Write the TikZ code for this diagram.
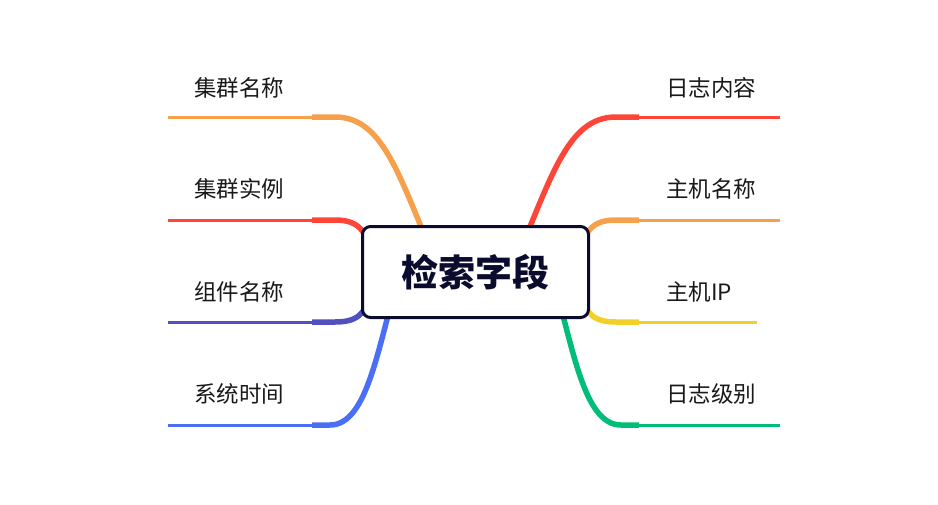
\documentclass[tikz,border=0pt]{standalone}
\usepackage{fontspec}
\setmainfont{Noto Sans CJK SC}
\usetikzlibrary{backgrounds}
\definecolor{ink}{HTML}{0B0B2E}
\definecolor{orangeA}{HTML}{F7A04B}
\definecolor{redA}{HTML}{FF4438}
\definecolor{indigoA}{HTML}{5050BE}
\definecolor{blueA}{HTML}{4A6EF5}
\definecolor{yellowA}{HTML}{F2D02A}
\definecolor{greenA}{HTML}{00BE7A}
\tikzset{
	rootbox/.style={draw=ink, line width=3pt, rounded corners=8pt, fill=white, text=ink,
		minimum width=226pt, minimum height=91pt, inner sep=0pt, font=\fontsize{37}{40}\selectfont\bfseries},
	topic/.style={inner sep=0pt, text=black!90, font=\fontsize{22.5}{26}\selectfont},
	branch/.style={line width=5.5pt, draw=#1, line cap=butt},
	twig/.style={line width=3pt, draw=#1, line cap=butt},
}
\begin{document}
\begin{tikzpicture}[x=1pt, y=-1pt, line join=round]
	\useasboundingbox (0,0) rectangle (938,504);
	\path
	(168,117) coordinate (e1) (312,117) coordinate (k1)
	(168,220) coordinate (e2) (312,220) coordinate (k2)
	(168,322) coordinate (e3) (312,322) coordinate (k3)
	(168,425) coordinate (e4) (312,425) coordinate (k4)
	(780,117) coordinate (e5) (639,117) coordinate (k5)
	(780,220) coordinate (e6) (639,220) coordinate (k6)
	(757,322) coordinate (e7) (639,322) coordinate (k7)
	(780,425) coordinate (e8) (639,425) coordinate (k8)
	;
	% root
	\node[rootbox] (root) at (475.5,272) {检索字段};
	% topics
	\node[topic, anchor=west] (t1) at (194,88) {集群名称};
	\node[topic, anchor=west] (t2) at (194,189) {集群实例};
	\node[topic, anchor=west] (t3) at (194,292) {组件名称};
	\node[topic, anchor=west] (t4) at (194,394) {系统时间};
	\node[topic, anchor=west] (t5) at (666,88) {日志内容};
	\node[topic, anchor=west] (t6) at (666,189) {主机名称};
	\node[topic, anchor=west] (t7) at (666,292) {主机IP};
	\node[topic, anchor=west] (t8) at (666,394) {日志级别};
	% branches
	\begin{scope}[on background layer]
	\draw[branch=orangeA] (root.center) ++(-35.5,0) .. controls +(-40,-92) and +(50,0) .. (335,117) -- (k1);
	\draw[branch=redA] (root.center) ++(-103.5,-10) .. controls +(-4,-30) and +(25,0) .. (335,220) -- (k2);
	\draw[branch=indigoA] (root.center) ++(-103.5,10) .. controls +(-4,30) and +(25,0) .. (335,322) -- (k3);
	\draw[branch=blueA] (root.center) ++(-75.5,0) .. controls +(-22,73) and +(38,0) .. (330,425) -- (k4);
	\draw[branch=redA] (root.center) ++(35.5,0) .. controls +(40,-92) and +(-50,0) .. (616,117) -- (k5);
	\draw[branch=orangeA] (root.center) ++(103.5,-10) .. controls +(4,-30) and +(-25,0) .. (616,220) -- (k6);
	\draw[branch=yellowA] (root.center) ++(103.5,10) .. controls +(4,30) and +(-25,0) .. (616,322) -- (k7);
	\draw[branch=greenA] (root.center) ++(75.5,0) .. controls +(22,73) and +(-38,0) .. (621,425) -- (k8);
	\draw[twig=orangeA] (k1) -- (e1);
	\draw[twig=redA] (k2) -- (e2);
	\draw[twig=indigoA] (k3) -- (e3);
	\draw[twig=blueA] (k4) -- (e4);
	\draw[twig=redA] (k5) -- (e5);
	\draw[twig=orangeA] (k6) -- (e6);
	\draw[twig=yellowA] (k7) -- (e7);
	\draw[twig=greenA] (k8) -- (e8);
	\end{scope}
\end{tikzpicture}
\end{document}
